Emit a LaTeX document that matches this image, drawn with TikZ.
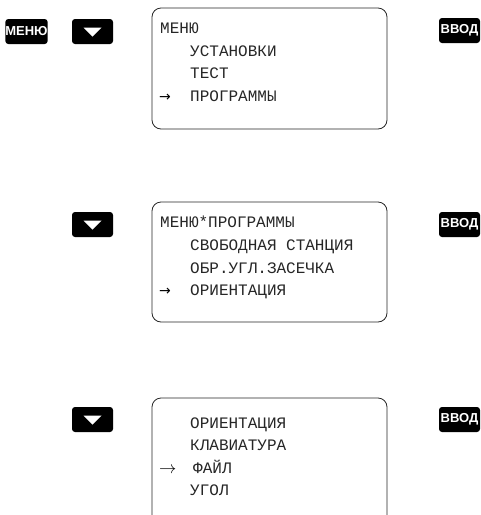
\documentclass[tikz,border=0pt]{standalone}
\usepackage{fontspec}
\newfontfamily\monofont{Liberation Mono}
\newfontfamily\keyfont{Liberation Sans}
\newfontfamily\arrowfont{DejaVu Sans}
\tikzset{
  keybox/.style={fill=black, rounded corners=3pt, inner sep=0pt, minimum width=42pt, minimum height=25pt, text=white, font=\keyfont\bfseries\fontsize{13}{14}\selectfont},
  screen/.style={draw=black!85, line width=0.8pt, rounded corners=9pt, minimum width=235pt, inner sep=0pt},
  txt/.style={anchor=base west, inner sep=0pt, text=black!85, font=\monofont\fontsize{16}{18}\selectfont},
  ptr/.style={anchor=base west, inner sep=0pt, text=black, font=\arrowfont\fontsize{14}{16}\selectfont}
}
\newcommand{\downtri}[1]{\fill[white] ([xshift=-9pt,yshift=4pt]#1.center) -- ([xshift=9pt,yshift=4pt]#1.center) -- ([yshift=-5pt]#1.center) -- cycle;}
\begin{document}
\begin{tikzpicture}[x=1pt,y=-1pt]
\useasboundingbox (0,0) rectangle (481,515);
\clip (0,0) rectangle (481,515);
% row 1
\node[keybox] (menu1) at (26.5,31.5) {МЕНЮ};
\node[keybox, minimum width=41pt] (down1) at (92.5,31.5) {};
\downtri{down1}
\node[keybox, minimum width=41pt] (enter1) at (459.5,30.5) {ВВОД};
\node[screen, minimum height=121pt] (scr1) at (269.5,68.5) {};
\node[txt] (a1) at (160,33.7) {МЕНЮ};
\node[txt] (a2) at (190,56.7) {УСТАНОВКИ};
\node[txt] (a3) at (190,78.7) {ТЕСТ};
\node[ptr] (a4p) at (159,101.7) {→};
\node[txt] (a4) at (190,101.7) {ПРОГРАММЫ};
% row 2
\node[keybox, minimum width=41pt] (down2) at (92.5,224.5) {};
\downtri{down2}
\node[keybox, minimum width=41pt] (enter2) at (459.5,224.5) {ВВОД};
\node[screen, minimum height=120pt] (scr2) at (269.5,262) {};
\node[txt] (b1) at (160,227.7) {МЕНЮ*ПРОГРАММЫ};
\node[txt] (b2) at (190,250.7) {СВОБОДНАЯ СТАНЦИЯ};
\node[txt] (b3) at (190,273.7) {ОБР.УГЛ.ЗАСЕЧКА};
\node[ptr] (b4p) at (159,295.7) {→};
\node[txt] (b4) at (190,295.7) {ОРИЕНТАЦИЯ};
% row 3
\node[keybox, minimum width=41pt] (down3) at (92.5,419.5) {};
\downtri{down3}
\node[keybox, minimum width=41pt] (enter3) at (459.5,419.5) {ВВОД};
\node[screen, minimum height=127pt] (scr3) at (269.5,461.5) {};
\node[txt] (c1) at (190,428.7) {ОРИЕНТАЦИЯ};
\node[txt] (c2) at (190,450.7) {КЛАВИАТУРА};
\node[anchor=base west, inner sep=0pt, font=\fontsize{16}{18}\selectfont] (c3p) at (159,473.7) {$\rightarrow$};
\node[txt] (c3) at (193,473.7) {ФАЙЛ};
\node[txt] (c4) at (190,495.7) {УГОЛ};
\end{tikzpicture}
\end{document}
